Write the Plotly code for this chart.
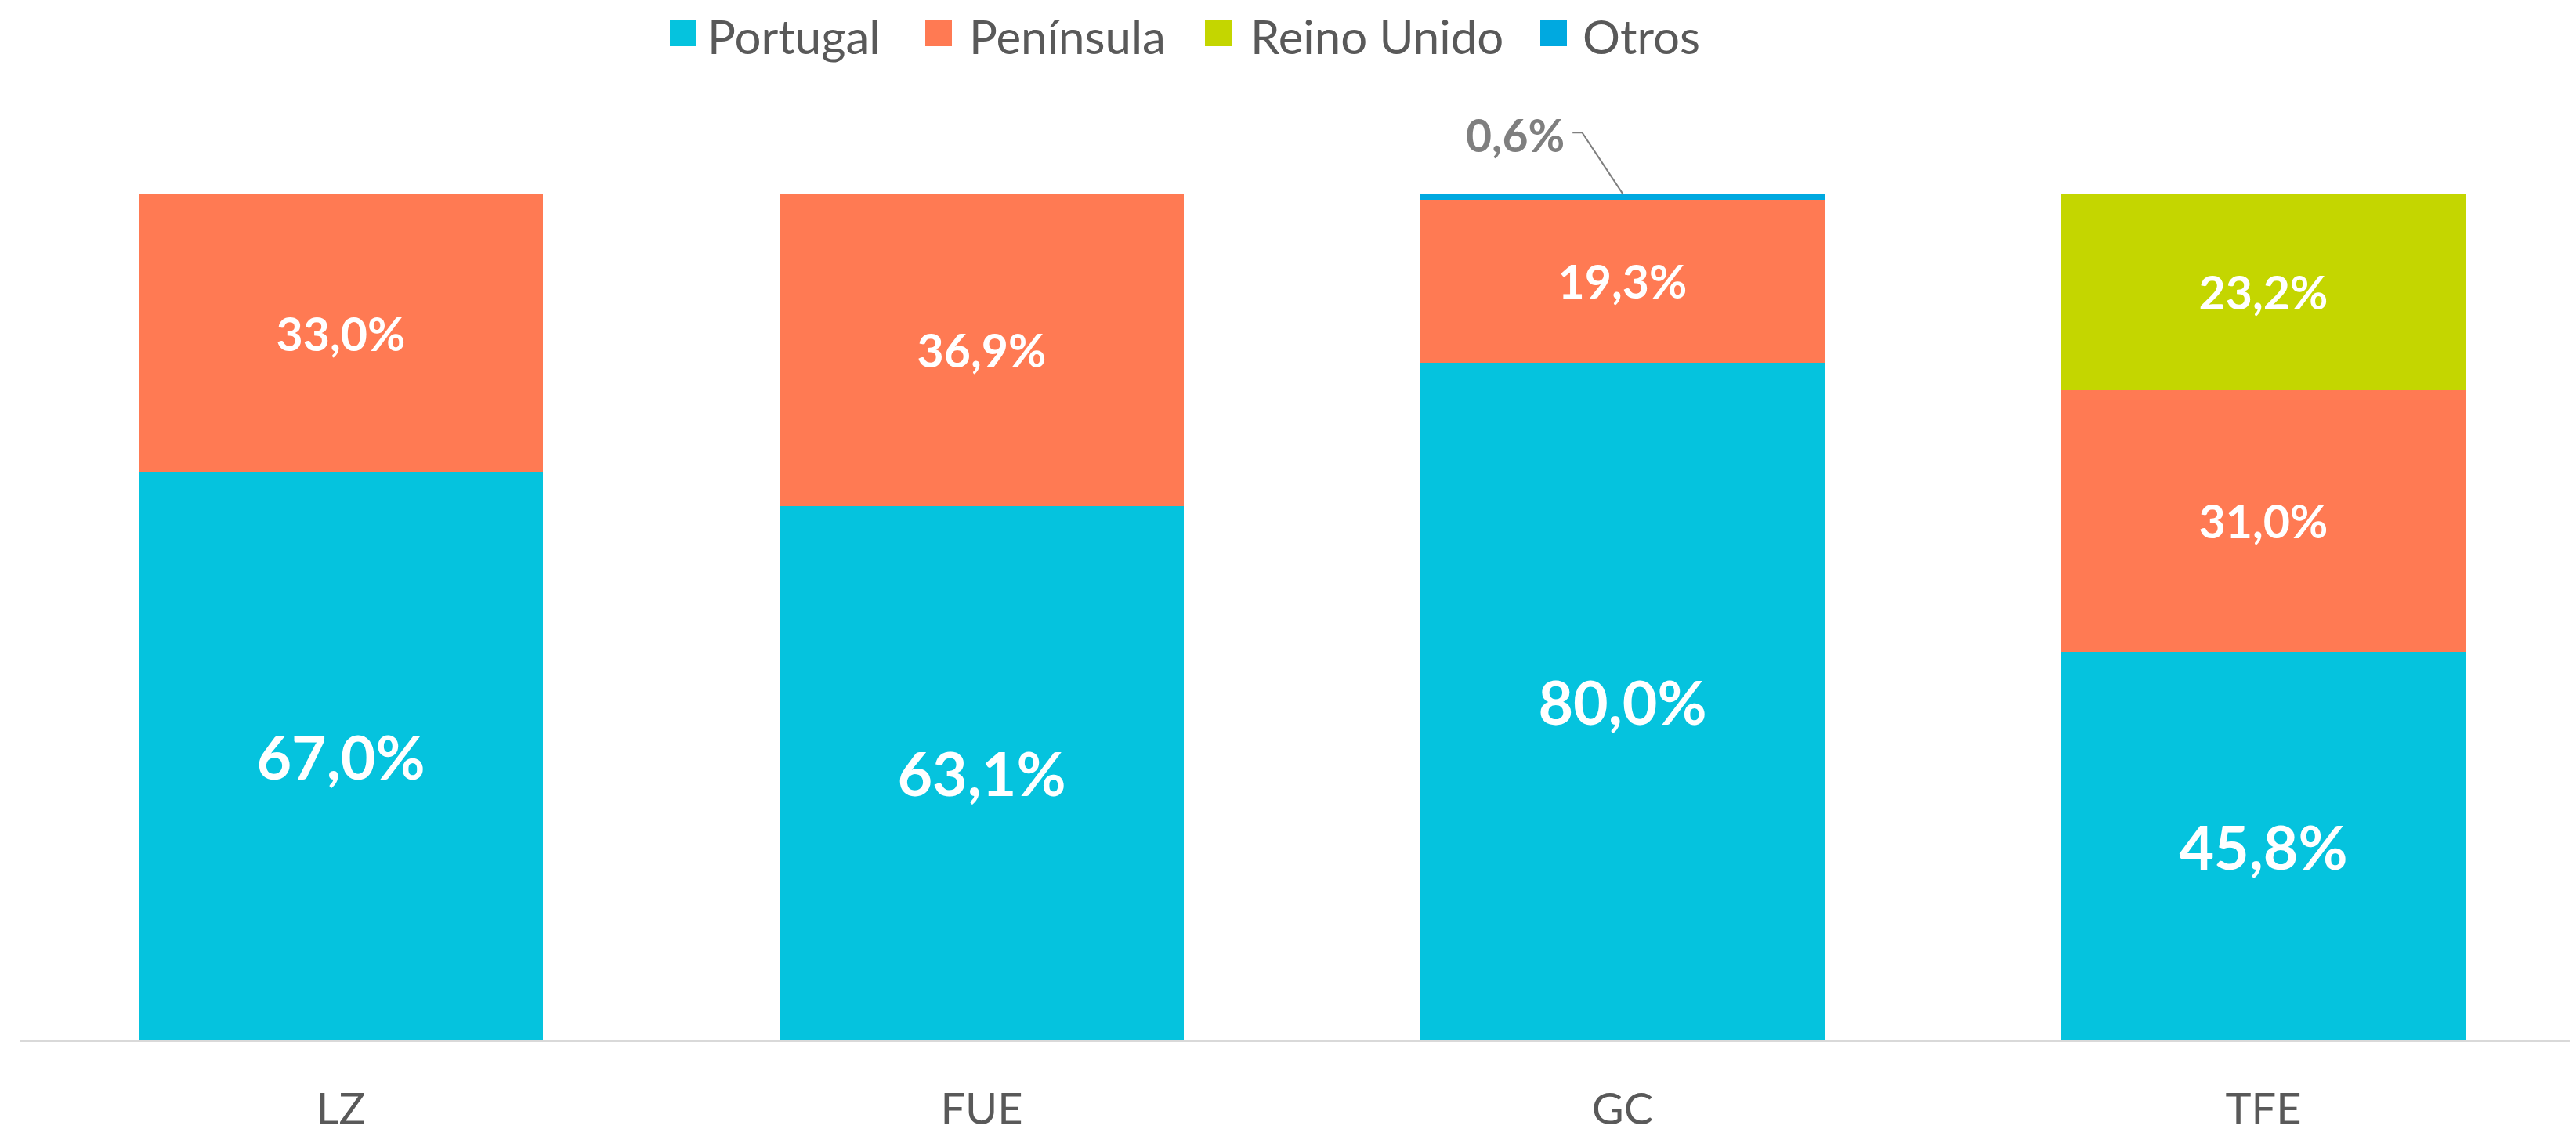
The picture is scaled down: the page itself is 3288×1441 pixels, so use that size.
import plotly.graph_objects as go

categories = ["LZ", "FUE", "GC", "TFE"]
series_names = ["Portugal", "Península", "Reino Unido", "Otros"]
portugal = [67.0, 63.1, 80.0, 45.8]
peninsula = [33.0, 36.9, 19.3, 31.0]
reino_unido = [0, 0, 0, 23.2]
otros = [0, 0, 0.6, 0]
colors = ["#05C3DE", "#FF7A53", "#C4D600", "#00A9E0"]

FONT = "Lato"
W, H = 3288, 1441
OFF = 8  # page body margin offset in the browser
ML, MR, MT, MB = 26 - OFF, 0, 0, 114 + OFF
plot_w = W - ML - MR
plot_h = H - MT - MB
px_per_unit = 10.8  # vertical pixels per percentage point
cat_px = 818        # horizontal pixels per category
y_top = plot_h / px_per_unit
x_end = -0.5 + plot_w / cat_px


def paper_x(X):
    return (X - OFF - ML) / plot_w


def paper_y(Y):
    return 1 - (Y - OFF - MT) / plot_h


fig = go.Figure()
series = [portugal, peninsula, reino_unido, otros]
for i, (name, vals) in enumerate(zip(series_names, series)):
    if name == "Otros":
        texts = ["" for v in vals]
    else:
        texts = [("%.1f%%" % v).replace(".", ",") if v > 0 else "" for v in vals]
    size = 77 if name == "Portugal" else 59
    fig.add_trace(go.Bar(
        x=categories, y=vals, name=name,
        marker=dict(color=colors[i], line=dict(width=0)),
        text=texts, textposition="inside", insidetextanchor="middle",
        textangle=0, constraintext="none",
        textfont=dict(family=FONT, size=size, color="white", weight="bold"),
        hoverinfo="skip", showlegend=False,
    ))

# custom legend (large square swatches)
legend_sq_x = [855, 1181, 1538, 1966]
legend_tx_x = [902, 1236, 1595, 2019]
sq = 34
for name, col, sx, tx in zip(series_names, colors, legend_sq_x, legend_tx_x):
    fig.add_shape(type="rect", xref="paper", yref="paper",
                  x0=paper_x(sx), x1=paper_x(sx + sq),
                  y0=paper_y(25 + sq), y1=paper_y(25),
                  fillcolor=col, line=dict(width=0))
    fig.add_annotation(xref="paper", yref="paper", x=paper_x(tx), y=paper_y(OFF + 1),
                       xanchor="left", yanchor="top", text=name, showarrow=False,
                       borderpad=0,
                       font=dict(family=FONT, size=60, color="#595959"))

# 0,6% callout for GC
gc = categories.index("GC")
gc_total = portugal[gc] + peninsula[gc] + otros[gc]
label_y = gc_total + 7.0
fig.add_annotation(x=gc - 0.168, y=label_y, xref="x", yref="y",
                   text=("%.1f%%" % otros[gc]).replace(".", ","), showarrow=False,
                   font=dict(family=FONT, size=57, color="#7F7F7F", weight="bold"))
fig.add_shape(type="path", xref="x", yref="y",
              path=f"M {gc-0.078} {label_y + 0.3} L {gc-0.063} {label_y + 0.3} L {gc+0.001} {gc_total}",
              line=dict(color="#7F7F7F", width=2))

fig.update_layout(
    width=W, height=H,
    margin=dict(l=ML, r=MR, t=MT, b=MB),
    barmode="stack", bargap=0.37,
    plot_bgcolor="white", paper_bgcolor="white",
    separators=",.",
    showlegend=False,
    xaxis=dict(range=[-0.5, x_end], showline=True, linecolor="#D9D9D9", linewidth=3,
               ticks="outside", ticklen=38, tickcolor="rgba(0,0,0,0)",
               tickfont=dict(family=FONT, size=56, color="#595959"),
               showgrid=False, zeroline=False, automargin=False, fixedrange=True),
    yaxis=dict(range=[0, y_top], visible=False, showgrid=False, zeroline=False,
               automargin=False, fixedrange=True),
)

fig.write_html("out.html")
